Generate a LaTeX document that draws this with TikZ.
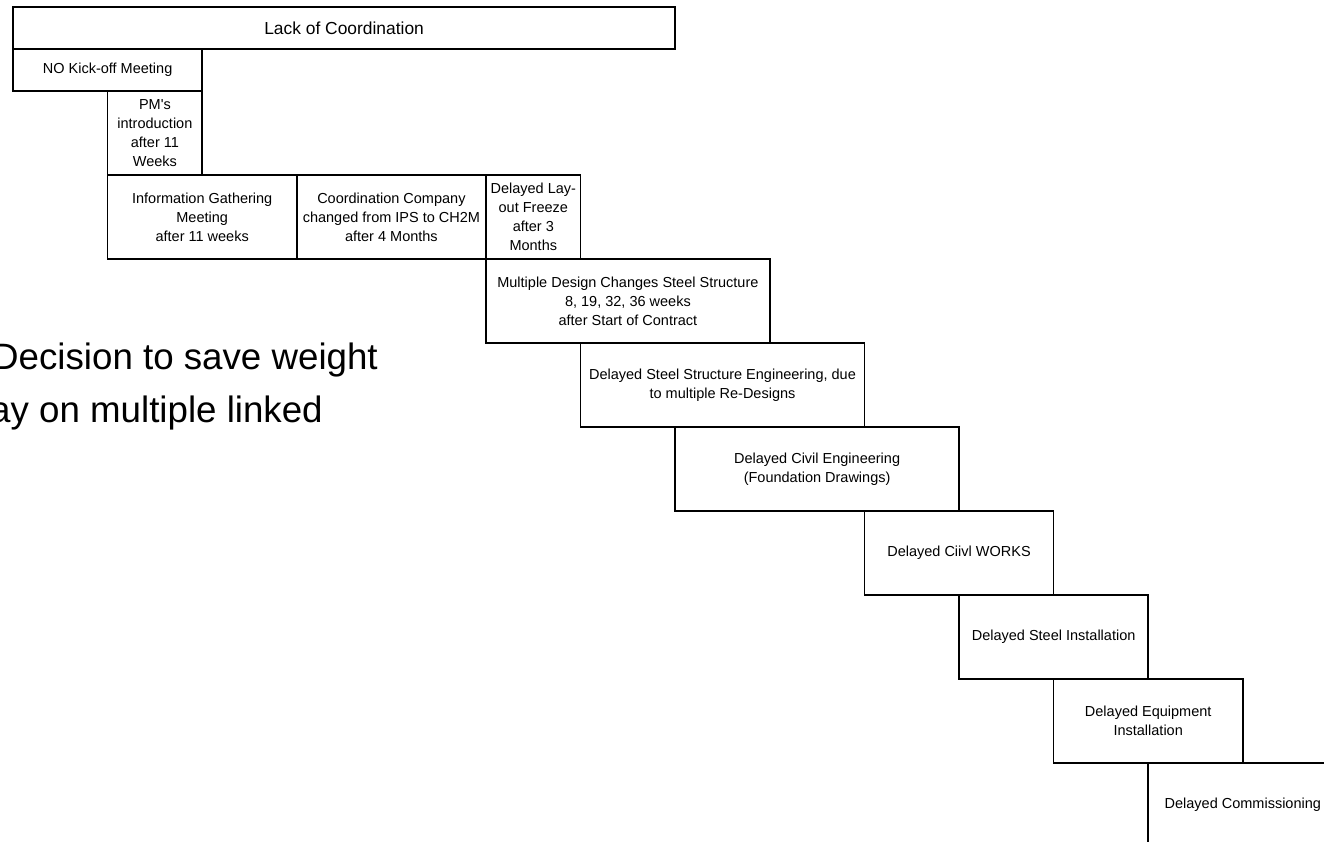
\documentclass[tikz,border=0pt]{standalone}
\usepackage{fontspec}
\setmainfont{Liberation Sans}
\begin{document}
\begin{tikzpicture}[x=1pt,y=-1pt,
  box/.style={draw=black, line width=1.5pt, align=center, inner sep=0pt,
    font=\fontsize{14.5}{19}\selectfont},
  wide/.style={minimum width=189.2pt, minimum height=84pt},
  wider/.style={minimum width=283.8pt, minimum height=84pt},
  narrow/.style={minimum width=94.6pt, minimum height=84pt},
  bigtext/.style={anchor=base west, inner sep=0pt, font=\fontsize{36.7}{53}\selectfont}]
\useasboundingbox (0,0) rectangle (1324,841);
\clip (0,0) rectangle (1324,841);
\fill[white] (0,0) rectangle (1324,841);

\node[box, minimum width=662.2pt, minimum height=42pt, font=\fontsize{17.4}{21}\selectfont] (lack) at (344.1,28) {Lack of Coordination};
\node[box, minimum width=189.2pt, minimum height=42pt] (kick) at (107.6,70) {NO Kick-off Meeting};
\node[box, narrow] (pm) at (154.9,133) {PM\textquotesingle s\\introduction\\after 11\\Weeks};
\node[box, wide] (info) at (202.2,217) {Information Gathering\\Meeting\\after 11 weeks};
\node[box, wide] (coord) at (391.4,217) {Coordination Company\\changed from IPS to CH2M\\after 4 Months};
\node[box, narrow] (layout) at (533.3,217) {Delayed Lay-\\out Freeze\\after 3\\Months};
\node[box, wider] (multi) at (627.9,301) {Multiple Design Changes Steel Structure\\8, 19, 32, 36 weeks\\after Start of Contract};
\node[box, wider] (steeleng) at (722.5,385) {Delayed Steel Structure Engineering, due\\to multiple Re-Designs};
\node[box, wider] (civileng) at (817.1,469) {Delayed Civil Engineering\\(Foundation Drawings)};
\node[box, wide] (civilworks) at (959,553) {Delayed Ciivl WORKS};
\node[box, wide] (steelinst) at (1053.6,637) {Delayed Steel Installation};
\node[box, wide] (equip) at (1148.2,721) {Delayed Equipment\\Installation};
\node[box, wide] (comm) at (1242.8,805) {Delayed Commissioning};

\node[bigtext] (dec1) at (-8,369) {Decision to save weight};
\node[bigtext] (dec2) at (-10,422) {ay on multiple linked};
\end{tikzpicture}
\end{document}
